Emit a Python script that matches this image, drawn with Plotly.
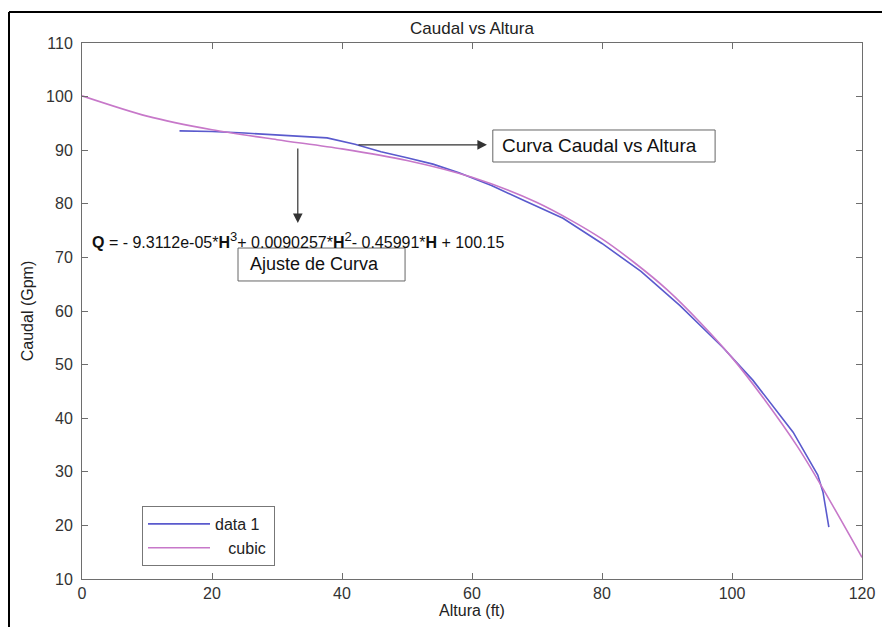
import plotly.graph_objects as go

# ---- data ----
altura_data = [15, 20, 25, 30, 37.7, 42, 46, 50, 54, 58, 63, 68, 74, 80, 86, 92, 98.6, 103.2, 109.4, 113.2, 114, 114.9]
caudal_data = [93.6, 93.5, 93.2, 92.9, 92.3, 91.1, 89.7, 88.6, 87.4, 85.8, 83.4, 80.6, 77.3, 72.6, 67.4, 61.0, 53.2, 47.1, 37.4, 29.4, 26.2, 19.7]

altura_cubic = [0, 10, 20, 30, 40, 50, 60, 70, 80, 90, 100, 110, 120]
caudal_cubic = [100.15, 96.36, 93.82, 91.96, 90.24, 88.08, 84.94, 80.25, 73.45, 63.99, 51.30, 34.84, 14.03]

x_ticks = [0, 20, 40, 60, 80, 100, 120]
y_ticks = [10, 20, 30, 40, 50, 60, 70, 80, 90, 100, 110]

series_names = ["data 1\u00a0\u00a0", "\u00a0\u00a0\u00a0cubic"]
title_text = "Caudal vs Altura"
x_title = "Altura (ft)"
y_title = "Caudal (Gpm)"
SUP = '<sup><span style="font-size:13px">{}</span></sup>'
eq_text = ("<b>Q</b> = - 9.3112e-05*<b>H</b>" + SUP.format("3") + "+ 0.0090257*<b>H</b>" + SUP.format("2")
           + "- 0.45991*<b>H</b> + 100.15")
label_fit = "Ajuste de Curva"
label_curve = "Curva Caudal vs Altura"

FONT = "Liberation Sans, Arial, sans-serif"

# page is drawn with an 8px body margin, so the figure is 8px smaller
W, H = 882, 619

fig = go.Figure()
fig.add_trace(go.Scatter(x=altura_data, y=caudal_data, mode="lines", name=series_names[0],
                         line=dict(color="#5a5acd", width=1.6)))
fig.add_trace(go.Scatter(x=altura_cubic, y=caudal_cubic, mode="lines", name=series_names[1],
                         line=dict(color="#c778c9", width=1.6, shape="spline", smoothing=0.8)))

axis_common = dict(showgrid=False, zeroline=False, showline=True, linecolor="#6e6e6e", linewidth=1,
                   mirror="ticks", ticks="inside", ticklen=6, tickcolor="#6e6e6e",
                   tickfont=dict(family=FONT, size=16, color="#333333"))

fig.update_layout(
    width=W, height=H,
    margin=dict(l=74, r=28, t=35, b=48),
    paper_bgcolor="white", plot_bgcolor="white",
    font=dict(family=FONT, color="#222222"),
    title=dict(text=title_text, x=464 / W, xanchor="center", y=1 - 20 / H, yanchor="middle",
               font=dict(family=FONT, size=17, color="#222222")),
    xaxis=dict(range=[0, 120], tickvals=x_ticks,
               title=dict(text=x_title, font=dict(family=FONT, size=16, color="#222222"), standoff=2),
               **axis_common),
    yaxis=dict(range=[10, 110], tickvals=y_ticks, ticklabelstandoff=5,
               title=dict(text=y_title, font=dict(family=FONT, size=16, color="#222222"), standoff=8),
               **axis_common),
    showlegend=True,
    legend=dict(x=(142 - 82) / 780, y=(579 - 506) / 536, xanchor="left", yanchor="top",
                bgcolor="white", bordercolor="#777777", borderwidth=1,
                font=dict(family=FONT, size=16, color="#222222"),
                tracegroupgap=0, itemwidth=62),
)

# outer frame (left and top border of the original picture)
fig.add_shape(type="line", xref="paper", yref="paper", x0=(9 - 82) / 780, x1=(9 - 82) / 780,
              y0=(579 - 12) / 536, y1=(579 - 640) / 536, line=dict(color="black", width=2))
fig.add_shape(type="line", xref="paper", yref="paper", x0=(9 - 82) / 780, x1=(900 - 82) / 780,
              y0=(579 - 12) / 536, y1=(579 - 12) / 536, line=dict(color="black", width=2))

# equation text
fig.add_annotation(x=1.2, y=73.25, xref="x", yref="y", text=eq_text, showarrow=False,
                   xanchor="left", yanchor="middle",
                   font=dict(family=FONT, size=16, color="#111111"))

# "Ajuste de Curva" box
fig.add_shape(type="rect", xref="x", yref="y", x0=24.0, x1=49.7, y0=65.6, y1=71.75,
              line=dict(color="#666666", width=1), fillcolor="white")
fig.add_annotation(x=25.5, y=68.7, xref="x", yref="y", text=label_fit, showarrow=False,
                   xanchor="left", yanchor="middle", font=dict(family=FONT, size=18, color="#111111"))

# "Curva Caudal vs Altura" box
fig.add_shape(type="rect", xref="x", yref="y", x0=63.2, x1=97.4, y0=87.8, y1=93.77,
              line=dict(color="#666666", width=1), fillcolor="white")
fig.add_annotation(x=64.3, y=90.8, xref="x", yref="y", text=label_curve, showarrow=False,
                   xanchor="left", yanchor="middle", font=dict(family=FONT, size=19, color="#111111"))

# arrows
fig.add_annotation(x=33.2, y=76.4, ax=33.2, ay=90.6, xref="x", yref="y", axref="x", ayref="y",
                   text="", showarrow=True, arrowhead=2, arrowsize=1.6, arrowwidth=1.2,
                   arrowcolor="#333333")
fig.add_annotation(x=62.3, y=91.0, ax=42.3, ay=91.0, xref="x", yref="y", axref="x", ayref="y",
                   text="", showarrow=True, arrowhead=2, arrowsize=1.6, arrowwidth=1.2,
                   arrowcolor="#333333")

fig.write_html("out.html")
